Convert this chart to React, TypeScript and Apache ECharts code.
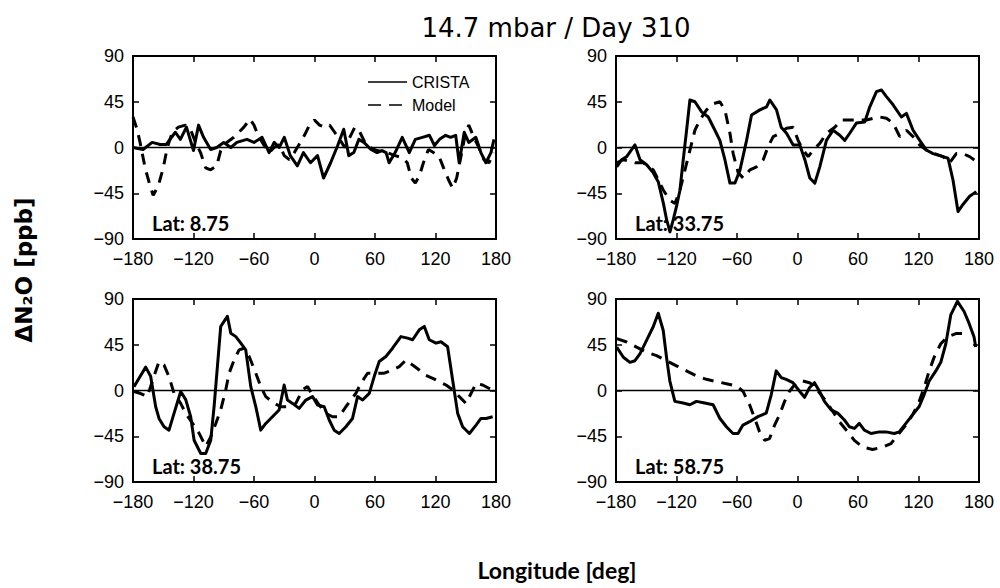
import React, { useEffect, useRef } from "react";
import * as echarts from "echarts";

const TITLE = "14.7 mbar / Day 310";
const Y_TITLE = "ΔN₂O [ppb]";
const X_TITLE = "Longitude [deg]";
const LATITUDES = ["8.75", "33.75", "38.75", "58.75"];
const SERIES_NAMES = ["CRISTA", "Model"];
const LON_MIN = -180;
const LON_MAX = 180;
const LON_STEP = 60;
const VAL_MIN = -90;
const VAL_MAX = 90;
const VAL_STEP = 45;

// Panel 1 : Lat 8.75
const crista1: number[][] = [
  [-180, 0], [-170, -2], [-161, 5], [-153, 3], [-147, 3], [-138, 15], [-133, 8], [-127, 20],
  [-120, -3], [-115, 22], [-110, 10], [-103, -2], [-97, 0], [-90, 5], [-83, 0], [-77, 5],
  [-67, 8], [-60, 5], [-52, 10], [-45, -5], [-40, 5], [-35, 0], [-30, 10], [-24, -8],
  [-17, -18], [-11, -5], [-4, -15], [3, -8], [9, -30], [16, -15], [23, 2], [29, 18],
  [34, -8], [39, -5], [44, 8], [49, 5], [56, -2], [62, -5], [67, -3], [71, -5], [74, -15],
  [80, -5], [87, 10], [94, -5], [100, 8], [107, 10], [114, 12], [119, 2], [124, 8],
  [130, 12], [135, 10], [140, 12], [143.5, -15], [148.5, 15], [153, 5], [160, 10],
  [165, -5], [170, -15], [175, -5], [178, 8]
];
const model1: number[][] = [
  [-180, 30], [-176, 18], [-173, 5], [-168, -20], [-163, -38], [-160, -47], [-155, -38],
  [-150, -20], [-146, 0], [-141, 15], [-135, 20], [-128, 22], [-123, 18], [-118, 5],
  [-113, -5], [-108, -20], [-103, -22], [-97, -18], [-93, -3], [-87, 5], [-80, 10],
  [-70, 20], [-64, 28], [-60, 22], [-56, 12], [-50, 2], [-45, -5], [-40, 0], [-35, 3],
  [-30, -8], [-25, -12], [-20, -5], [-14, 5], [-10, 12], [-5, 22], [0, 27], [5, 22],
  [10, 20], [15, 22], [20, 15], [25, 8], [30, 0], [35, 10], [40, 20], [45, 15], [50, 5],
  [55, 0], [62, -3], [72, -5], [80, -8], [87, -10], [92, -15], [96, -30], [100, -35],
  [104, -28], [108, -15], [113, -2], [118, -5], [124, -10], [128, -20], [133, -32],
  [137, -40], [141, -30], [145, -10], [150, 15], [153, 22], [158, 10], [163, 0],
  [168, -12], [173, -15], [178, -5]
];

// Panel 2 : Lat 33.75
const crista2: number[][] = [
  [-179.3, -19], [-174.4, -12], [-169.4, -9], [-161.2, 2.5], [-156.2, -12], [-149.6, -17],
  [-143, -25], [-138, -34], [-133, -55], [-129.8, -71], [-126.5, -83], [-123.2, -71],
  [-120, -58], [-116.6, -42], [-113.3, -12], [-110, 17], [-106.7, 46.7], [-101.7, 45],
  [-95.1, 35], [-88.5, 30], [-81.9, 17], [-77, 7], [-72, -12], [-67, -35], [-62, -35],
  [-57, -22], [-50.5, 7], [-45.6, 32], [-37.3, 37], [-30.7, 40], [-27.4, 46.7],
  [-20.8, 37], [-16.2, 20], [-10.9, 14], [-4.3, 2.5], [2.3, 2.5], [7.3, -12], [12.2, -30],
  [17.2, -35], [22.1, -19], [28.7, 7], [35.3, 17], [41.9, 12], [46.9, 7], [51.8, 14],
  [58.4, 24], [66.7, 25], [71.7, 40], [78.3, 55], [83.2, 56.6], [88.2, 50], [94.8, 42],
  [103, 30], [108, 33.6], [114.6, 17], [121.2, 7], [127.8, -2.5], [134.4, -6], [144.3, -9],
  [149.3, -10.6], [154.2, -32], [159.2, -63], [164.1, -56], [170.7, -48], [177.3, -43.4]
];
const model2: number[][] = [
  [-179.3, -15], [-172.7, -12], [-161.2, -15], [-152.9, -15], [-143, -22], [-133, -42],
  [-126.5, -52], [-121.5, -55], [-116.6, -42], [-111.6, -22], [-108.3, -9], [-105, 4],
  [-101.7, 17], [-96.8, 27], [-90.2, 37], [-83.6, 43], [-77, 45], [-72, 37], [-67, 14],
  [-63.8, -6], [-58.8, -25], [-53.8, -30], [-47.2, -22], [-40.6, -19], [-34, -12],
  [-29.1, 1], [-24.1, 10.7], [-17.5, 14], [-10.9, 19], [-4.3, 20], [0.6, 7], [5.6, -2.5],
  [10.6, -9], [15.5, -2.5], [22.1, 4], [28.7, 14], [37, 20], [43.6, 27], [51.8, 27],
  [58.4, 27], [68.4, 27], [75, 28.7], [81.6, 30], [88.2, 28.7], [94.8, 24], [101.4, 10.7],
  [108, 17], [114.6, 10.7], [121.2, 2.5], [127.8, -2.5], [136, -6], [144.3, -9],
  [150.9, -15], [157.5, -6], [164.1, -6], [170.7, -9], [179, -15]
];

// Panel 3 : Lat 38.75
const crista3: number[][] = [
  [-179, 3.8], [-174, 12], [-167.4, 23], [-162.5, 14], [-157.5, -16], [-154.2, -27.5],
  [-149.2, -35.7], [-144.3, -39], [-139.3, -22.5], [-132.7, -1], [-127.7, -9],
  [-122.8, -25.8], [-119.4, -48.9], [-112.8, -62], [-107.9, -62], [-102.9, -48.9],
  [-99.6, -16], [-96.3, 23.5], [-93, 63], [-89.7, 68], [-86.4, 73], [-83, 56.4],
  [-78, 53], [-73.1, 46.6], [-68.2, 40], [-63.2, 3.8], [-58.2, -16], [-53.3, -39],
  [-48.3, -32.4], [-41.7, -25.8], [-35.1, -19.2], [-30.1, 5.4], [-26.8, -9.4],
  [-21.8, -12.7], [-15.2, -17.6], [-8.6, -9.4], [-2, -6], [3, -14.3], [9.6, -16],
  [14.6, -29], [19.5, -39], [24.5, -42.3], [31.1, -35.7], [37.7, -27.5], [42.7, -6],
  [47.7, -9.4], [54.3, -2.8], [59.2, 13.7], [64.2, 28.5], [70.8, 33.4], [77.4, 41.6],
  [85.7, 53], [92.3, 51.5], [97.3, 49.9], [103.9, 59.7], [108.9, 63], [113.8, 49.9],
  [120.5, 46.6], [125.4, 48], [132, 43], [137, 10.4], [142, -22.5], [146.9, -35.7],
  [153.6, -42.3], [160.2, -34], [165.1, -27.5], [170.1, -27.5], [176.7, -25.8]
];
const model3: number[][] = [
  [-179, -1], [-172.4, -3], [-165.8, -6], [-159.2, 14], [-154.2, 28.5], [-149.2, 25],
  [-144.3, 13.7], [-139.3, -2.8], [-132.7, -12.7], [-127.7, -22.5], [-121.1, -32],
  [-114.5, -42], [-107.9, -55], [-102.9, -45.6], [-97.9, -32.4], [-93, -19], [-88, 0.7],
  [-84.7, 17], [-79.7, 30], [-74.8, 40], [-69.8, 41.6], [-64.8, 33.4], [-58.2, 17],
  [-53.3, 3.8], [-48.3, -6], [-40, -12.7], [-33.4, -16], [-25.1, -16], [-18.5, -12.7],
  [-11.9, 0.7], [-6.9, 3.8], [-2, -4.4], [4.6, -14.3], [11.3, -22.5], [17.9, -25.8],
  [24.5, -25.8], [31.1, -16], [36.1, -9.4], [41, -2.8], [46, 7], [52.6, 17], [60.9, 17],
  [69.2, 17], [77.4, 20.2], [84.1, 23.5], [90.7, 30], [97.3, 25], [103.9, 20.2],
  [110.5, 15], [117.2, 12], [123.8, 8.7], [130.4, 5.4], [137, 0.7], [143.6, -6],
  [150.2, -12.7], [155.2, -3], [160.2, 7], [166.8, 5.4], [173.4, 2], [178.4, 0]
];

// Panel 4 : Lat 58.75
const crista4: number[][] = [
  [-179.3, 42.7], [-172.7, 32.7], [-166.2, 27.7], [-161.2, 29.3], [-156.3, 36],
  [-149.7, 49.3], [-143.1, 62.7], [-138.1, 76], [-133.2, 59.3], [-129.9, 32.7],
  [-126.6, 9.3], [-121.6, -10.7], [-113.4, -12.3], [-106.8, -14], [-100.2, -10.7],
  [-92, -12.3], [-83.7, -14], [-77.1, -27.3], [-70.5, -35.7], [-64, -42.3], [-59, -42.3],
  [-54.1, -34], [-47.5, -30.7], [-39.2, -25.7], [-31, -22.3], [-26, -4], [-21.1, 19.3],
  [-16.1, 12.7], [-11.2, 11], [-4.6, 7.7], [2.1, -0.7], [7, -6.7], [11.9, 2.7], [16.8, 7.7],
  [21.8, -0.7], [26.7, -10.7], [33.3, -19], [39.9, -22.3], [46.5, -29], [51.5, -35.7],
  [56.4, -37.3], [61.3, -32.3], [66.3, -39], [72.9, -42.3], [81.1, -40.7], [87.7, -40.7],
  [96, -42.3], [100.9, -40.7], [107.5, -32.3], [114.1, -24], [120.7, -15.7], [125.6, -4],
  [130.6, 9.3], [137.2, 19.3], [142.1, 27.7], [147.1, 46], [152, 74.3], [158.6, 87.7],
  [165.2, 77.7], [170.2, 66], [175.1, 52.7], [176.7, 42.7]
];
const model4: number[][] = [
  [-179.3, 51], [-169.4, 47.7], [-159.6, 42.7], [-149.7, 37.7], [-139.8, 34.3],
  [-129.9, 29.3], [-120, 24.3], [-110.1, 19.3], [-100.2, 14.3], [-90.3, 11], [-80.4, 8.7],
  [-70.5, 6.7], [-60.6, 4.3], [-54.1, -0.7], [-47.5, -14], [-42.5, -27.3], [-37.6, -40.7],
  [-32.6, -49], [-27.7, -47.3], [-22.7, -34], [-17.8, -24], [-12.8, -10.7], [-7.9, -0.7],
  [-1.3, 7.7], [5.3, 9.3], [11.9, 7.7], [16.8, 4.3], [21.8, -2.3], [28.4, -10.7],
  [35, -20.7], [41.6, -30.7], [49.8, -40.7], [56.4, -49], [64.6, -55.7], [74.5, -58],
  [84.4, -55.7], [92.7, -52.3], [99.3, -44], [107.5, -34], [114.1, -24], [120.7, -10.7],
  [125.6, 2.7], [130.6, 19.3], [135.5, 32.7], [142.1, 46], [148.7, 52.7], [157, 56],
  [165.2, 56], [170.2, 56]
];

const PANELS = [
  { crista: crista1, model: model1 },
  { crista: crista2, model: model2 },
  { crista: crista3, model: model3 },
  { crista: crista4, model: model4 },
];

const GRID_POS = [
  [133, 56],
  [616, 56],
  [133, 299],
  [616, 299],
];
const GRID_W = 363;
const GRID_H = 183;

const TICK_FONT = "Liberation Sans";
const DASH = [11, 8];
const minus = (v: number) => String(v).replace("-", "\u2212");

export default function App() {
  const ref = useRef<HTMLDivElement>(null);
  useEffect(() => {
    if (!ref.current) return;
    const chart = echarts.init(ref.current, null, { renderer: "svg" });

    const grids: any[] = [];
    const xAxes: any[] = [];
    const yAxes: any[] = [];
    const series: any[] = [];
    const graphics: any[] = [];

    PANELS.forEach((p, i) => {
      const [left, top] = GRID_POS[i];
      grids.push({
        left,
        top,
        width: GRID_W,
        height: GRID_H,
        containLabel: false,
        outerBoundsMode: "none",
      });
      const axisLine = { show: true, onZero: false, lineStyle: { color: "#000", width: 2 } };
      const axisTick = { show: true, inside: true, length: 6, lineStyle: { color: "#000", width: 1.5 } };
      const xBase = {
        gridIndex: i,
        type: "value",
        min: LON_MIN,
        max: LON_MAX,
        interval: LON_STEP,
        axisLine,
        axisTick,
        splitLine: { show: false },
      };
      xAxes.push({
        ...xBase,
        position: "bottom",
        axisLabel: {
          show: true,
          color: "#000",
          fontSize: 18,
          fontFamily: TICK_FONT,
          margin: 11,
          formatter: (v: number) => minus(v),
        },
      });
      xAxes.push({ ...xBase, position: "top", axisLabel: { show: false } });
      const yBase = {
        gridIndex: i,
        type: "value",
        min: VAL_MIN,
        max: VAL_MAX,
        interval: VAL_STEP,
        axisLine,
        axisTick,
        splitLine: { show: false },
      };
      yAxes.push({
        ...yBase,
        position: "left",
        axisLabel: {
          show: true,
          color: "#000",
          fontSize: 18,
          fontFamily: TICK_FONT,
          margin: 9,
          formatter: (v: number) => minus(v),
        },
      });
      yAxes.push({ ...yBase, position: "right", axisLabel: { show: false } });

      series.push({
        name: SERIES_NAMES[0],
        type: "line",
        xAxisIndex: 2 * i,
        yAxisIndex: 2 * i,
        data: p.crista,
        symbol: "none",
        showSymbol: false,
        lineStyle: { color: "#000", width: 3, type: "solid", join: "round" },
        itemStyle: { color: "#000" },
        clip: true,
        markLine: {
          silent: true,
          symbol: "none",
          label: { show: false },
          lineStyle: { color: "#000", width: 1.3, type: "solid" },
          data: [{ yAxis: 0 }],
        },
      });
      series.push({
        name: SERIES_NAMES[1],
        type: "line",
        xAxisIndex: 2 * i,
        yAxisIndex: 2 * i,
        data: p.model,
        symbol: "none",
        showSymbol: false,
        lineStyle: { color: "#000", width: 3, type: DASH },
        itemStyle: { color: "#000" },
        clip: true,
      });

      graphics.push({
        type: "text",
        left: left + 19,
        top: top + 157,
        style: {
          text: "Lat: " + LATITUDES[i],
          font: "bold 20px Lato",
          fill: "#000",
        },
      });
    });

    // legend (drawn as graphic for exact line styles)
    const LEG_X = 368;
    const LEG_Y = [82, 105];
    SERIES_NAMES.forEach((name, k) => {
      graphics.push({
        type: "line",
        shape: { x1: LEG_X, y1: LEG_Y[k], x2: LEG_X + 39, y2: LEG_Y[k] },
        style: {
          stroke: "#000",
          lineWidth: 1.3,
          lineDash: k === 0 ? null : [13, 8],
        },
      });
      graphics.push({
        type: "text",
        x: LEG_X + 44,
        y: LEG_Y[k],
        style: {
          text: name,
          font: "16px 'Liberation Sans'",
          fill: "#000",
          textVerticalAlign: "middle",
        },
      });
    });

    graphics.push({
      type: "text",
      x: 556,
      y: 28,
      style: {
        text: TITLE,
        font: "26px 'DejaVu Sans'",
        fill: "#000",
        textAlign: "center",
        textVerticalAlign: "middle",
      },
    });
    graphics.push({
      type: "text",
      x: 557,
      y: 570,
      style: {
        text: X_TITLE,
        font: "bold 23px Lato",
        fill: "#000",
        textAlign: "center",
        textVerticalAlign: "middle",
      },
    });
    graphics.push({
      type: "text",
      x: 24,
      y: 270,
      rotation: Math.PI / 2,
      style: {
        text: Y_TITLE,
        font: "bold 23px 'DejaVu Sans'",
        fill: "#000",
        textAlign: "center",
        textVerticalAlign: "middle",
      },
    });

    chart.setOption({
      animation: false,
      backgroundColor: "#fff",
      grid: grids,
      xAxis: xAxes,
      yAxis: yAxes,
      series,
      graphic: graphics,
    });
    return () => chart.dispose();
  }, []);
  return (
    <div
      ref={ref}
      style={{ position: "fixed", left: 0, top: 0, width: 1000, height: 588, background: "#fff" }}
    />
  );
}
